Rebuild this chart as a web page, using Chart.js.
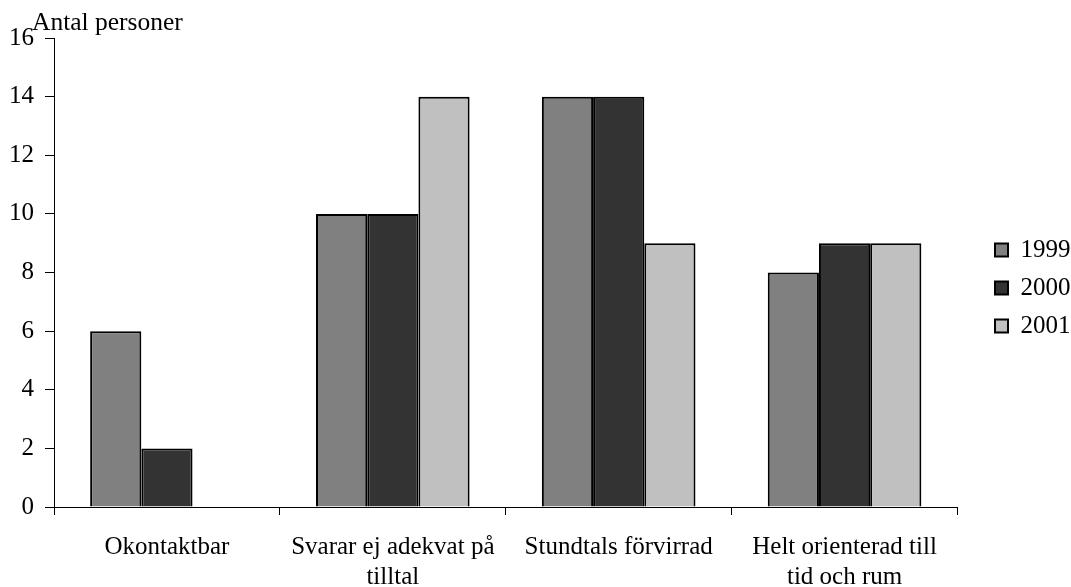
<!DOCTYPE html>
<html lang="sv">
<head>
  <meta charset="UTF-8" />
  <title>Antal personer</title>
  <script src="https://cdn.jsdelivr.net/npm/chart.js"></script>
  <style>
    body { margin: 0; background: #fff; }
  </style>
</head>
<body>
  <canvas id="chart" width="1071" height="587"></canvas>

  <script>
    const categories = [
      'Okontaktbar',
      ['Svarar ej adekvat på', 'tilltal'],
      'Stundtals förvirrad',
      ['Helt orienterad till', 'tid och rum']
    ];
    const years = ['1999', '2000', '2001'];
    const values1999 = [6, 10, 14, 8];
    const values2000 = [2, 10, 14, 9];
    const values2001 = [null, 14, 9, 9];
    const yTicks = [0, 2, 4, 6, 8, 10, 12, 14, 16];

    const serif = 'Liberation Serif';

    // y-axis caption drawn horizontally above the axis
    const captionPlugin = {
      id: 'caption',
      afterDraw(chart) {
        const ctx = chart.ctx;
        ctx.save();
        ctx.font = '25.5px "' + serif + '"';
        ctx.fillStyle = '#000';
        ctx.textBaseline = 'alphabetic';
        ctx.fillText('Antal personer', 32, 30);
        ctx.restore();
      }
    };

    // put the legend where the original has it (right side, slightly above middle)
    const legendShift = {
      id: 'legendShift',
      afterLayout(chart) {
        const lg = chart.legend;
        if (!lg) return;
        const pad = lg.options.labels.padding;
        const dx = 982 - lg.left;
        lg.left += dx; lg.right += dx;
        const h = lg.bottom - lg.top;
        const colH = lg.columnSizes && lg.columnSizes[0] ? lg.columnSizes[0].height : 114;
        const newTop = 237.5 - (pad + h - colH) / 2;
        lg.top = newTop; lg.bottom = newTop + h;
      }
    };

    new Chart(document.getElementById('chart'), {
      type: 'bar',
      data: {
        labels: categories,
        datasets: [
          { label: years[0], data: values1999, backgroundColor: '#808080' },
          { label: years[1], data: values2000, backgroundColor: '#333333' },
          { label: years[2], data: values2001, backgroundColor: '#c0c0c0' }
        ].map(d => Object.assign(d, {
          borderColor: '#000',
          borderWidth: 2,
          categoryPercentage: 0.68,
          barPercentage: 1
        }))
      },
      options: {
        responsive: false,
        animation: false,
        layout: { padding: { left: -2, right: 15, top: 38, bottom: -22 } },
        plugins: {
          tooltip: { enabled: false },
          legend: {
            position: 'right',
            labels: {
              boxWidth: 13,
              boxHeight: 13,
              padding: 13,
              color: '#000',
              font: { family: serif, size: 25 }
            }
          }
        },
        scales: {
          x: {
            grid: { drawOnChartArea: false, drawTicks: true, tickLength: 8, color: '#000' },
            border: { display: true, color: '#000', width: 1 },
            ticks: {
              color: '#000',
              padding: 17,
              maxRotation: 0,
              autoSkip: false,
              font: { family: serif, size: 25, lineHeight: 1.2 }
            }
          },
          y: {
            min: 0,
            max: 16,
            afterBuildTicks(scale) { scale.ticks = yTicks.map(v => ({ value: v })); },
            grid: { drawOnChartArea: false, drawTicks: true, tickLength: 9, color: '#000' },
            border: { display: true, color: '#000', width: 1 },
            ticks: {
              color: '#000',
              padding: 11,
              font: { family: serif, size: 25 }
            }
          }
        }
      },
      plugins: [captionPlugin, legendShift]
    });
  </script>
</body>
</html>
